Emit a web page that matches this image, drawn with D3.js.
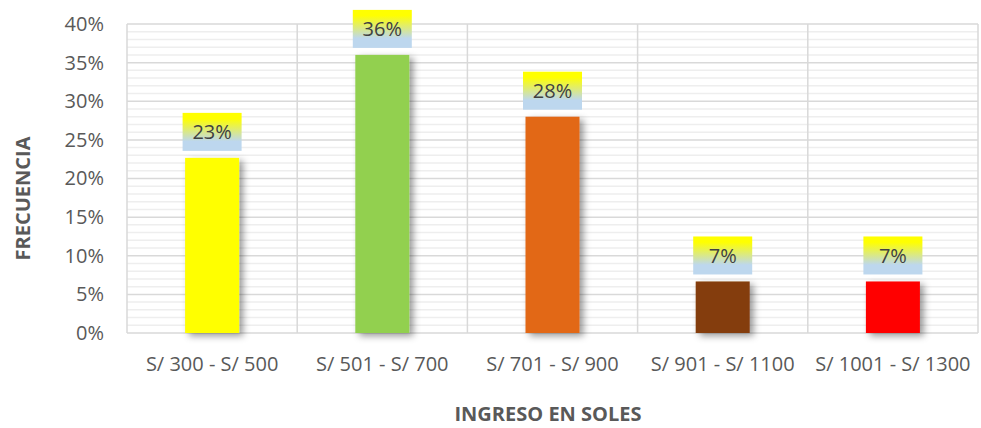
<!DOCTYPE html>
<html>
<head>
<meta charset="utf-8">
<script src="https://cdn.jsdelivr.net/npm/d3@7"></script>
<style>
  body { margin: 0; background: #fff; }
  svg { display: block; font-family: "Open Sans", "Noto Sans", sans-serif; }
</style>
</head>
<body>
<div id="chart"></div>
<script>
const categories = ["S/ 300 - S/ 500", "S/ 501 - S/ 700", "S/ 701 - S/ 900", "S/ 901 - S/ 1100", "S/ 1001 - S/ 1300"];
const values = [22.67, 36, 28, 6.67, 6.67];
const labels = ["23%", "36%", "28%", "7%", "7%"];
const colors = ["#ffff00", "#92d050", "#e26717", "#843c0c", "#ff0000"];
const yTicks = [0, 5, 10, 15, 20, 25, 30, 35, 40];

const width = 981, height = 428;
const margin = {top: 24, right: 3, bottom: 95, left: 127};

const svg = d3.select("#chart").append("svg")
    .attr("width", width)
    .attr("height", height);

const defs = svg.append("defs");

// shadow for the bars
const shadow = defs.append("filter")
    .attr("id", "shadow")
    .attr("x", "-20%").attr("y", "-20%")
    .attr("width", "160%").attr("height", "140%");
shadow.append("feDropShadow")
    .attr("dx", 4).attr("dy", 3)
    .attr("stdDeviation", 3.5)
    .attr("flood-color", "#000")
    .attr("flood-opacity", 0.4);

// yellow to light blue fill of the data labels
const grad = defs.append("linearGradient")
    .attr("id", "labelFill")
    .attr("x1", 0).attr("y1", 0).attr("x2", 0).attr("y2", 1);
grad.append("stop").attr("offset", "0%").attr("stop-color", "#ffff00");
grad.append("stop").attr("offset", "15%").attr("stop-color", "#ffff00");
grad.append("stop").attr("offset", "75%").attr("stop-color", "#bdd7ee");
grad.append("stop").attr("offset", "100%").attr("stop-color", "#bdd7ee");

const x = d3.scaleBand()
    .domain(categories)
    .range([margin.left, width - margin.right])
    .paddingInner(0)
    .paddingOuter(0);

const y = d3.scaleLinear()
    .domain([0, 40])
    .range([height - margin.bottom, margin.top]);

// minor gridlines
svg.append("g")
    .selectAll("line")
    .data(d3.range(0, 41, 1).filter(d => d % 5 !== 0))
    .join("line")
    .attr("x1", margin.left).attr("x2", width - margin.right)
    .attr("y1", d => y(d)).attr("y2", d => y(d))
    .attr("stroke", "#eeeeee")
    .attr("stroke-width", 1.5);

// major gridlines
svg.append("g")
    .selectAll("line")
    .data(yTicks)
    .join("line")
    .attr("x1", margin.left).attr("x2", width - margin.right)
    .attr("y1", d => y(d)).attr("y2", d => y(d))
    .attr("stroke", "#d9d9d9")
    .attr("stroke-width", 1.5);

// vertical lines between categories
const bounds = categories.map(c => x(c)).concat([x(categories[categories.length - 1]) + x.bandwidth()]);
svg.append("g")
    .selectAll("line")
    .data(bounds)
    .join("line")
    .attr("x1", d => d).attr("x2", d => d)
    .attr("y1", y(0)).attr("y2", y(40))
    .attr("stroke", "#d9d9d9")
    .attr("stroke-width", 1.5);

// bars
const barW = 54;
svg.append("g")
    .selectAll("rect")
    .data(values)
    .join("rect")
    .attr("x", (d, i) => x(categories[i]) + x.bandwidth() / 2 - barW / 2)
    .attr("y", d => y(d))
    .attr("width", barW)
    .attr("height", d => y(0) - y(d))
    .attr("fill", (d, i) => colors[i])
    .attr("filter", "url(#shadow)");

// data labels
const boxW = 59, boxH = 38;
const lab = svg.append("g")
    .selectAll("g")
    .data(values)
    .join("g")
    .attr("transform", (d, i) => `translate(${x(categories[i]) + x.bandwidth() / 2},${y(d) - 7 - boxH})`);
lab.append("rect")
    .attr("x", -boxW / 2)
    .attr("width", boxW)
    .attr("height", boxH)
    .attr("fill", "url(#labelFill)");
lab.append("text")
    .attr("y", boxH / 2)
    .attr("dy", "0.36em")
    .attr("text-anchor", "middle")
    .attr("font-size", 20)
    .attr("fill", "#404040")
    .text((d, i) => labels[i]);

// y axis
svg.append("g")
    .attr("transform", `translate(${margin.left},0)`)
    .call(d3.axisLeft(y).tickValues(yTicks).tickSize(0).tickPadding(23).tickFormat(d => d + "%"))
    .call(g => g.select(".domain").remove())
    .call(g => g.selectAll("text")
        .attr("font-size", 20)
        .attr("font-family", "Open Sans, sans-serif")
        .attr("fill", "#595959"));

// x axis
svg.append("g")
    .attr("transform", `translate(0,${y(0)})`)
    .call(d3.axisBottom(x).tickSize(0).tickPadding(24))
    .call(g => g.select(".domain").remove())
    .call(g => g.selectAll("text")
        .attr("font-size", 20)
        .attr("font-family", "Open Sans, sans-serif")
        .attr("fill", "#595959"));

// axis titles
svg.append("text")
    .attr("x", 548)
    .attr("y", 421)
    .attr("text-anchor", "middle")
    .attr("font-size", 20)
    .attr("font-weight", "bold")
    .attr("fill", "#595959")
    .text("INGRESO EN SOLES");

svg.append("text")
    .attr("transform", `translate(30,${(y(0) + y(40)) / 2 + 20}) rotate(-90)`)
    .attr("text-anchor", "middle")
    .attr("font-size", 20)
    .attr("font-weight", "bold")
    .attr("fill", "#595959")
    .text("FRECUENCIA");
</script>
</body>
</html>
